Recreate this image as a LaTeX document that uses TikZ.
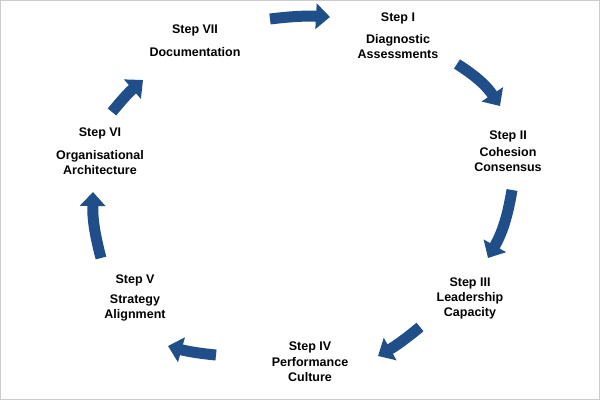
\documentclass[tikz,border=0pt]{standalone}
\usepackage{fontspec}
\setmainfont{Liberation Sans}
\usetikzlibrary{arrows.meta}
\definecolor{ab}{HTML}{1F4E89}
\tikzset{
 lbl/.style={font=\bfseries\fontsize{12.5}{15}\selectfont,align=center,inner sep=0pt},
 blk/.style={draw=ab,line width=11pt,-{Triangle[width=25pt,length=14pt]}}
}
\begin{document}
\begin{tikzpicture}[x=1pt,y=-1pt]
\useasboundingbox (0,0) rectangle (600,400);
\fill[white] (0,0) rectangle (600,400);
\draw[gray!40] (0.5,0.5) rectangle (599.5,399.5);
\node[lbl] (s7) at (195,30) {Step VII};
\node[lbl] (d7) at (195,52) {Documentation};
\node[lbl] (s1) at (398,18) {Step I};
\node[lbl] (d1) at (398,47) {Diagnostic\\Assessments};
\node[lbl] (s2) at (508,136) {Step II};
\node[lbl] (d2) at (508,160) {Cohesion\\Consensus};
\node[lbl] (s3) at (470,283) {Step III};
\node[lbl] (d3) at (470,306) {Leadership\\Capacity};
\node[lbl] (s4) at (310,347) {Step IV};
\node[lbl] (d4) at (310,370) {Performance\\Culture};
\node[lbl] (s5) at (135,280) {Step V};
\node[lbl] (d5) at (135,308) {Strategy\\Alignment};
\node[lbl] (s6) at (100,133) {Step VI};
\node[lbl] (d6) at (100,163) {Organisational\\Architecture};
\coordinate (a1) at (270,19); \coordinate (b1) at (330,17);
\coordinate (a2) at (457,64); \coordinate (b2) at (500,106);
\coordinate (a3) at (512,190); \coordinate (b3) at (488,258);
\coordinate (a4) at (420,327); \coordinate (b4) at (378,356);
\coordinate (a5) at (216,355); \coordinate (b5) at (168,346);
\coordinate (a6) at (101,258); \coordinate (b6) at (93,192);
\coordinate (a7) at (112,112); \coordinate (b7) at (143,80);
\draw[blk] (a1) to[bend left=5] (b1);
\draw[blk] (a2) to[bend left=12] (b2);
\draw[blk] (a3) to[bend left=10] (b3);
\draw[blk] (a4) to[bend left=5] (b4);
\draw[blk] (a5) to[bend left=5] (b5);
\draw[blk] (a6) to[bend left=8] (b6);
\draw[blk] (a7) to[bend left=5] (b7);
\end{tikzpicture}
\end{document}
